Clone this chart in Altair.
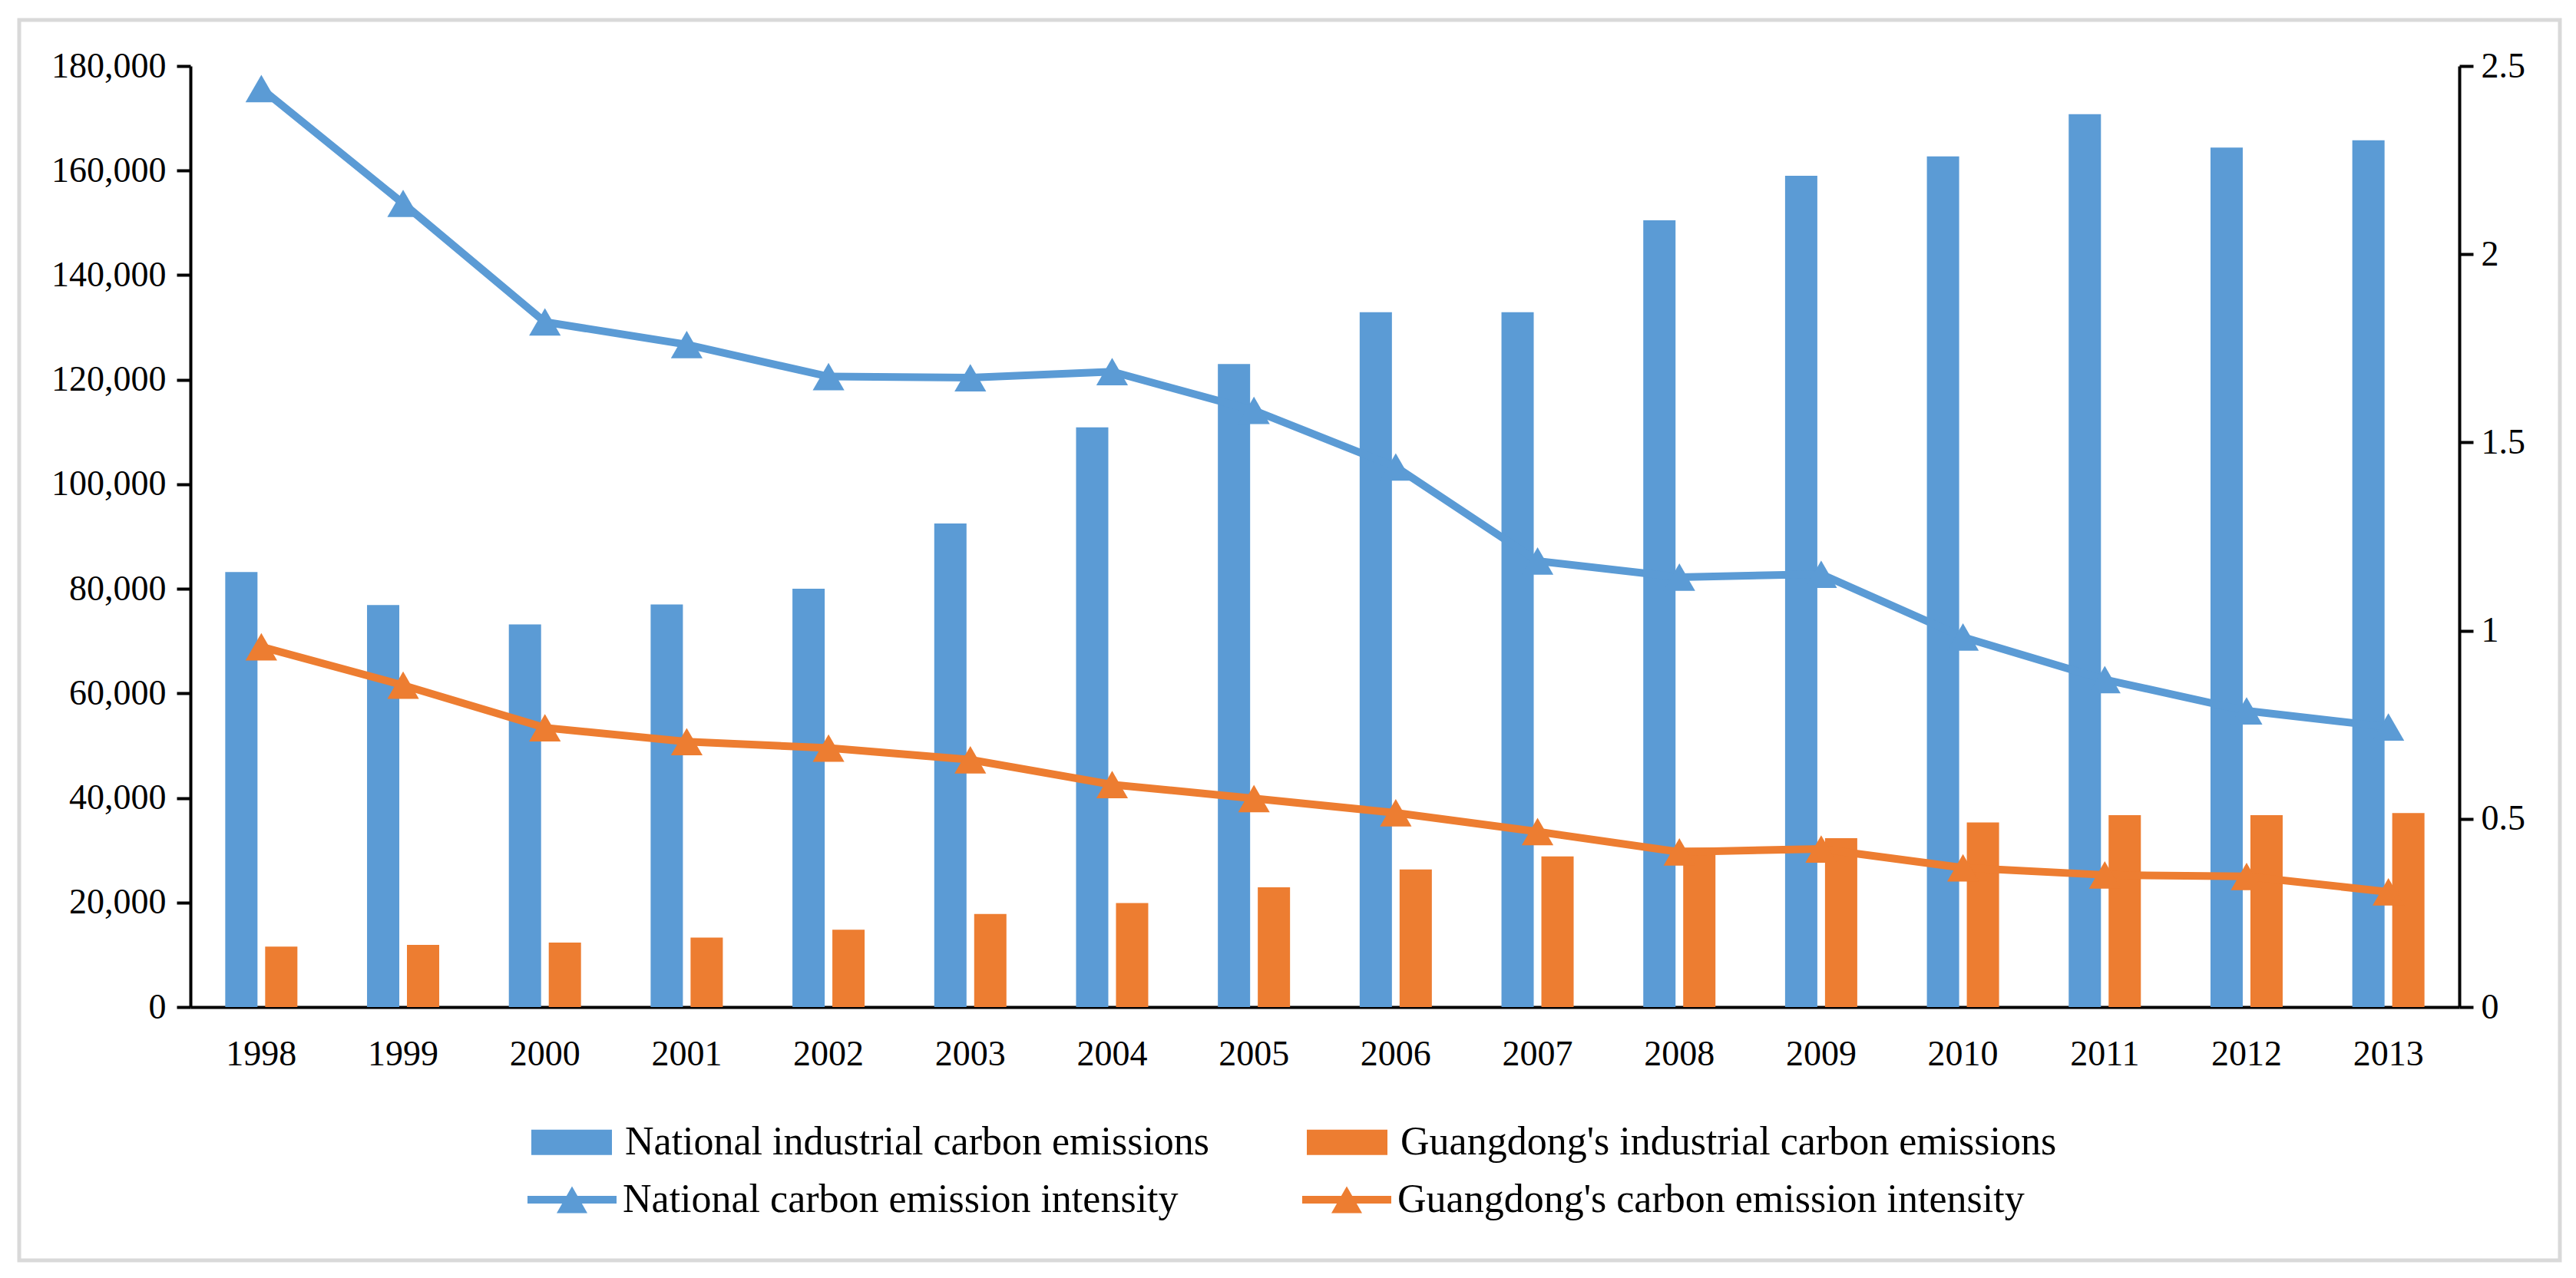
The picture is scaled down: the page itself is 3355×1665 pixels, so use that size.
import altair as alt
import pandas as pd

years = [str(y) for y in range(1998, 2014)]
national_emissions = [83200, 76900, 73200, 77000, 80000, 92500, 110900, 123000,
                      132900, 132900, 150500, 159000, 162700, 170800, 164400, 165800]
guangdong_emissions = [11550, 11900, 12350, 13300, 14800, 17800, 19900, 22900,
                       26300, 28800, 30500, 32300, 35300, 36700, 36700, 37100]
national_intensity = [2.44, 2.135, 1.82, 1.76, 1.675, 1.672, 1.688, 1.585,
                      1.435, 1.185, 1.142, 1.15, 0.983, 0.87, 0.787, 0.744]
guangdong_intensity = [0.957, 0.855, 0.742, 0.705, 0.688, 0.657, 0.591, 0.554,
                       0.516, 0.466, 0.412, 0.42, 0.37, 0.351, 0.347, 0.306]

bar_series = ["National industrial carbon emissions", "Guangdong's industrial carbon emissions"]
line_series = ["National carbon emission intensity", "Guangdong's carbon emission intensity"]
left_ticks = [0, 20000, 40000, 60000, 80000, 100000, 120000, 140000, 160000, 180000]
right_ticks = [0, 0.5, 1, 1.5, 2, 2.5]

BLUE = "#5B9BD5"
ORANGE = "#ED7D31"
FONT = "Liberation Serif"

bar_df = pd.DataFrame({
    "Year": years * 2,
    "Series": [bar_series[0]] * 16 + [bar_series[1]] * 16,
    "Value": national_emissions + guangdong_emissions,
})
line_df = pd.DataFrame({
    "Year": years * 2,
    "Series": [line_series[0]] * 16 + [line_series[1]] * 16,
    "Value": national_intensity + guangdong_intensity,
})

x_axis = alt.Axis(title=None, labelAngle=0, ticks=False, tickSize=0, labelPadding=39,
                  labelFont=FONT, labelFontSize=46, labelColor="black",
                  domainColor="black", domainWidth=4, grid=False)
x_enc = alt.X("Year:N", sort=years, scale=alt.Scale(paddingInner=0, paddingOuter=0), axis=x_axis)

frame = alt.Chart(pd.DataFrame({"k": [0]})).mark_rect(
    fill=None, stroke="#d9d9d9", strokeWidth=5
).encode(x=alt.value(-223), x2=alt.value(3086), y=alt.value(-60), y2=alt.value(1556))

bars = alt.Chart(bar_df).mark_bar().encode(
    x=x_enc,
    xOffset=alt.XOffset("Series:N", sort=bar_series,
                        scale=alt.Scale(domain=bar_series, paddingInner=0.192, paddingOuter=0.872)),
    y=alt.Y("Value:Q", scale=alt.Scale(domain=[0, 180000], nice=False),
            axis=alt.Axis(orient="left", title=None, values=left_ticks, format=",d",
                          labelFont=FONT, labelFontSize=46, labelColor="black",
                          labelPadding=14, tickSize=18, tickWidth=4, tickColor="black",
                          domainColor="black", domainWidth=4, grid=False)),
    fill=alt.Fill("Series:N", sort=bar_series,
                  scale=alt.Scale(domain=bar_series, range=[BLUE, ORANGE]),
                  legend=alt.Legend(title=None, orient="none", legendX=444, legendY=1349.5,
                                    direction="horizontal", columns=2, columnPadding=126,
                                    symbolType="M-1,-0.314H1V0.314H-1Z", symbolSize=11025,
                                    symbolStrokeWidth=0, labelFont=FONT, labelFontSize=52,
                                    labelColor="black", labelOffset=17, labelLimit=3000,
                                    padding=0)),
)

lines = alt.Chart(line_df).mark_line(strokeWidth=10).encode(
    x=x_enc,
    y=alt.Y("Value:Q", scale=alt.Scale(domain=[0, 2.5], nice=False),
            axis=alt.Axis(orient="right", title=None, values=right_ticks, format="~g",
                          labelFont=FONT, labelFontSize=46, labelColor="black",
                          labelPadding=10, tickSize=18, tickWidth=4, tickColor="black",
                          domainColor="black", domainWidth=4, grid=False)),
    stroke=alt.Stroke("Series:N", sort=line_series,
                      scale=alt.Scale(domain=line_series, range=[BLUE, ORANGE]), legend=None),
)

points = alt.Chart(line_df).mark_point(shape="triangle-up", size=1700, filled=True, opacity=1).encode(
    x=x_enc,
    y=alt.Y("Value:Q", scale=alt.Scale(domain=[0, 2.5], nice=False), axis=None),
    fill=alt.Fill("Series:N", sort=line_series,
                  scale=alt.Scale(domain=line_series, range=[BLUE, ORANGE]),
                  legend=alt.Legend(title=None, orient="none", legendX=439, legendY=1419,
                                    direction="horizontal", columns=2, columnPadding=161,
                                    symbolType="M-1,-0.086H1V0.086H-1Z M0,-0.3L0.345,0.3H-0.345Z",
                                    symbolSize=13456, symbolStrokeWidth=0,
                                    labelFont=FONT, labelFontSize=52, labelColor="black",
                                    labelOffset=8, labelLimit=3000, padding=0)),
)

chart = alt.layer(frame, bars, lines, points).resolve_scale(
    y="independent", fill="independent"
).properties(
    width=2955, height=1226,
    autosize=alt.AutoSizeParams(type="none"),
    padding={"left": 240, "top": 78, "right": 137, "bottom": 338},
    background="white",
).configure_view(stroke=None)

chart.save("out.html", embed_options={"renderer": "svg", "actions": False})
